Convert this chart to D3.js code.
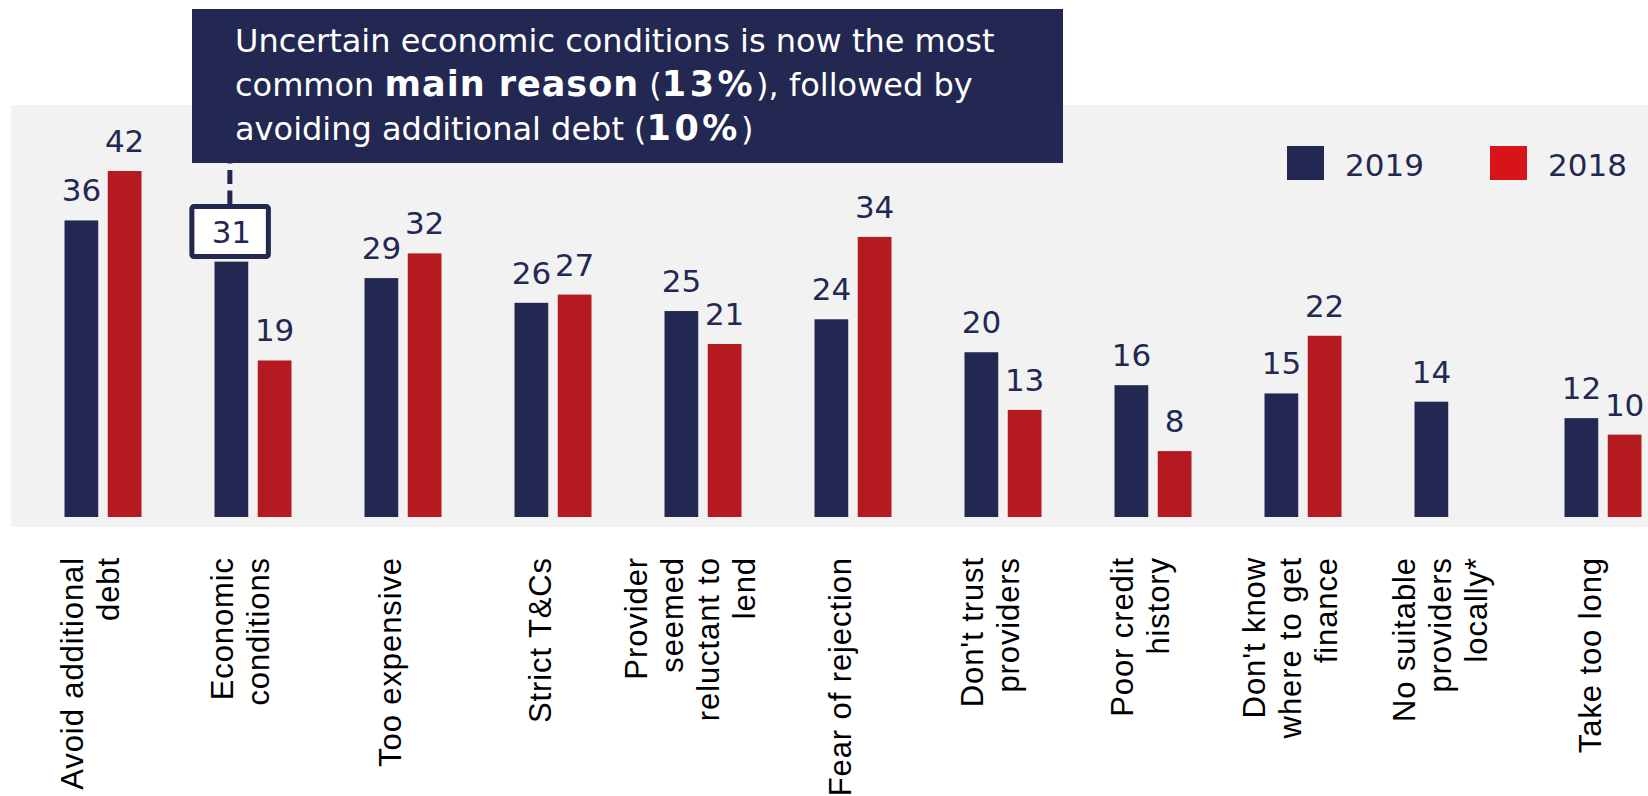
<!DOCTYPE html>
<html>
<head>
<meta charset="utf-8">
<script src="https://cdn.jsdelivr.net/npm/d3@7"></script>
<style>
  html, body { margin: 0; padding: 0; background: #ffffff; }
  svg { display: block; }
</style>
</head>
<body>
<svg id="chart" width="1648" height="796"></svg>
<script>
// Reasons for not applying for finance, % of respondents
const categories = [
  "Avoid additional debt",
  "Economic conditions",
  "Too expensive",
  "Strict T&Cs",
  "Provider seemed reluctant to lend",
  "Fear of rejection",
  "Don't trust providers",
  "Poor credit history",
  "Don't know where to get finance",
  "No suitable providers locally*",
  "Take too long"
];
// Wrapped versions of the category names for the rotated axis labels
const categoryLines = [
  ["Avoid additional", "debt"],
  ["Economic", "conditions"],
  ["Too expensive"],
  ["Strict T&Cs"],
  ["Provider", "seemed", "reluctant to", "lend"],
  ["Fear of rejection"],
  ["Don't trust", "providers"],
  ["Poor credit", "history"],
  ["Don't know", "where to get", "finance"],
  ["No suitable", "providers", "locally*"],
  ["Take too long"]
];
const seriesNames = ["2019", "2018"];
const values2019 = [36, 31, 29, 26, 25, 24, 20, 16, 15, 14, 12];
const values2018 = [42, 19, 32, 27, 21, 34, 13, 8, 22, null, 10];
const highlighted = "Economic conditions";

const NAVY = "#222851";
const RED = "#b51a20";
const LEGEND_RED = "#d7141a";
const PANEL = "#f2f2f2";
const NUM_FONT = "'DejaVu Sans', Verdana, sans-serif";

const svg = d3.select("#chart");

// Grey plotting panel
svg.append("rect")
  .attr("x", 11).attr("y", 105)
  .attr("width", 1648 - 11).attr("height", 527 - 105)
  .attr("fill", PANEL);

// Scales
const x = d3.scaleBand().domain(categories).range([28, 28 + 150 * categories.length]).padding(0);
const xInner = d3.scaleBand().domain(seriesNames).range([-38.5, 38.5]).paddingInner(0.22);
const y = d3.scaleLinear().domain([0, 42]).range([517, 171]);
const color = d3.scaleOrdinal().domain(seriesNames).range([NAVY, RED]);

const rows = categories.map((c, i) => ({
  category: c,
  lines: categoryLines[i],
  bars: [
    { series: "2019", value: values2019[i] },
    { series: "2018", value: values2018[i] }
  ].filter(d => d.value != null)
}));

const groups = svg.append("g").selectAll("g.group")
  .data(rows)
  .join("g")
  .attr("class", "group")
  .attr("transform", d => `translate(${x(d.category) + x.bandwidth() / 2},0)`);

// Bars
groups.selectAll("rect.bar")
  .data(d => d.bars)
  .join("rect")
  .attr("class", "bar")
  .attr("x", d => xInner(d.series))
  .attr("width", xInner.bandwidth())
  .attr("y", d => y(d.value))
  .attr("height", d => y(0) - y(d.value))
  .attr("fill", d => color(d.series));

// Value labels above bars
groups.selectAll("text.value")
  .data(d => d.bars.map(b => ({ ...b, category: d.category })))
  .join("text")
  .attr("class", "value")
  .attr("x", d => xInner(d.series) + xInner.bandwidth() / 2)
  .attr("y", d => y(d.value) - 19)
  .attr("text-anchor", "middle")
  .attr("font-family", NUM_FONT)
  .attr("font-size", 31)
  .attr("fill", NAVY)
  .text(d => d.value);

// Rotated, wrapped category labels (right-aligned, reading bottom to top)
const axisLabels = groups.append("text")
  .attr("font-family", "'Liberation Sans', Arial, sans-serif")
  .attr("font-size", 31)
  .attr("letter-spacing", 0.9)
  .attr("fill", "#000000")
  .attr("text-anchor", "end")
  .attr("transform", "translate(0,557) rotate(-90)");
axisLabels.each(function(d) {
  const n = d.lines.length;
  const lineGap = 36;
  d3.select(this).selectAll("tspan")
    .data(d.lines)
    .join("tspan")
    .attr("x", 0)
    .attr("y", (l, j) => -2 + (j - (n - 1) / 2) * lineGap)
    .text(l => l);
});

// Highlight frame around the "Economic conditions" 2019 value
const hi = categories.indexOf(highlighted);
const hiX = x(highlighted) + x.bandwidth() / 2 + xInner("2019") + xInner.bandwidth() / 2;
const hiY = y(values2019[hi]) - 19;
const calloutBottom = 163;

svg.append("line")
  .attr("x1", hiX - 1.5).attr("x2", hiX - 1.5)
  .attr("y1", hiY - 38).attr("y2", calloutBottom)
  .attr("stroke", NAVY)
  .attr("stroke-width", 5)
  .attr("stroke-dasharray", "14,6.5");

svg.append("rect")
  .attr("x", hiX - 39.5).attr("y", hiY - 36)
  .attr("width", 76.5).attr("height", 50)
  .attr("rx", 2)
  .attr("fill", "#ffffff")
  .attr("stroke", NAVY)
  .attr("stroke-width", 5);

svg.append("text")
  .attr("x", hiX).attr("y", hiY)
  .attr("text-anchor", "middle")
  .attr("font-family", NUM_FONT)
  .attr("font-size", 31)
  .attr("fill", NAVY)
  .text(values2019[hi]);

// Callout box
svg.append("rect")
  .attr("x", 192).attr("y", 9)
  .attr("width", 1063 - 192).attr("height", calloutBottom - 9)
  .attr("fill", NAVY);

const calloutLines = [
  [{ t: "Uncertain economic conditions is now the most" }],
  [{ t: "common " }, { t: "main reason", b: true }, { t: " (" }, { t: "13%", b: true, pct: true }, { t: "), followed by" }],
  [{ t: "avoiding additional debt (" }, { t: "10%", b: true, pct: true }, { t: ")" }]
];
const callout = svg.append("g")
  .attr("font-family", "'DejaVu Sans', Verdana, sans-serif")
  .attr("font-size", 32)
  .attr("fill", "#ffffff");
calloutLines.forEach((parts, i) => {
  const t = callout.append("text").attr("x", 235).attr("y", 52 + i * 44).attr("xml:space", "preserve");
  t.selectAll("tspan").data(parts).join("tspan")
    .attr("font-weight", p => p.b ? "bold" : "normal")
    .attr("font-size", p => p.b ? 35 : 32)
    .attr("letter-spacing", p => p.pct ? 3.5 : (p.b ? 1 : 0))
    .text(p => p.t);
});

// Legend
const legend = svg.append("g").selectAll("g")
  .data(seriesNames)
  .join("g")
  .attr("transform", (d, i) => `translate(${1287 + i * 203},0)`);
legend.append("rect")
  .attr("x", 0).attr("y", 146)
  .attr("width", 37).attr("height", 34)
  .attr("fill", (d, i) => i === 0 ? NAVY : LEGEND_RED);
legend.append("text")
  .attr("x", 58).attr("y", 176)
  .attr("font-family", NUM_FONT)
  .attr("font-size", 31)
  .attr("fill", NAVY)
  .text(d => d);
</script>
</body>
</html>
